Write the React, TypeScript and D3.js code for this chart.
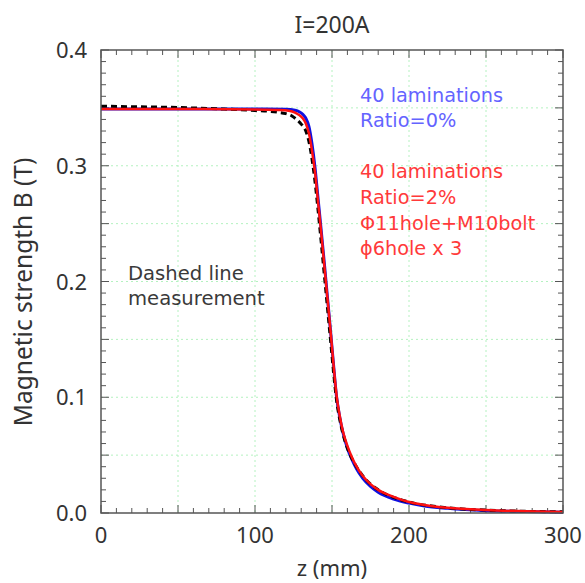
import React from "react";
import * as d3 from "d3";

const zRed = [0, 50, 100, 115, 122, 126, 129, 131, 133, 135, 137, 139, 141, 143, 145, 147, 149, 151, 153, 155, 157, 160, 163, 166, 170, 175, 180, 190, 200, 210, 225, 250, 275, 300];
const bRed = [0.349, 0.349, 0.3487, 0.3482, 0.3475, 0.346, 0.3435, 0.341, 0.3365, 0.328, 0.313, 0.294, 0.268, 0.242, 0.214, 0.186, 0.158, 0.128, 0.101, 0.084, 0.071, 0.058, 0.048, 0.04, 0.032, 0.025, 0.02, 0.014, 0.0095, 0.007, 0.0045, 0.0025, 0.0015, 0.0008];

const zBlue = [0, 50, 100, 120, 126, 129, 131, 133, 135, 137, 139, 141, 143, 145, 147, 149, 151, 153, 155, 157, 160, 163, 166, 170, 175, 180, 190, 200, 210, 225, 250, 275, 300];
const bBlue = [0.349, 0.349, 0.349, 0.3488, 0.348, 0.3465, 0.3445, 0.341, 0.334, 0.319, 0.298, 0.271, 0.244, 0.216, 0.187, 0.158, 0.128, 0.1, 0.083, 0.07, 0.056, 0.046, 0.038, 0.03, 0.023, 0.018, 0.012, 0.0085, 0.006, 0.004, 0.002, 0.0012, 0.0006];

const zMeas = [0, 20, 50, 80, 100, 110, 115, 120, 124, 127, 130, 133, 135, 137, 139, 141, 143, 145, 147, 149, 151, 153, 155, 157, 160, 165, 170, 180, 190, 200, 225, 250, 300];
const bMeas = [0.3515, 0.351, 0.3503, 0.349, 0.3477, 0.347, 0.3462, 0.345, 0.343, 0.34, 0.336, 0.33, 0.321, 0.306, 0.286, 0.261, 0.234, 0.206, 0.178, 0.15, 0.122, 0.097, 0.081, 0.069, 0.056, 0.042, 0.032, 0.02, 0.0135, 0.0095, 0.0045, 0.0025, 0.001];

const xTicks = [0, 100, 200, 300];
const yTicks = [0.0, 0.1, 0.2, 0.3, 0.4];

const blueNotes = ["40 laminations", "Ratio=0%"];
const redNotes = ["40 laminations", "Ratio=2%", "Φ11hole+M10bolt", "ϕ6hole x 3"];
const blackNotes = ["Dashed line", "measurement"];

const W = 585;
const H = 583;
const L = 101, R = 563, T = 50, B = 513;
const FONT = "'Noto Sans', 'DejaVu Sans', sans-serif";
const NOTE_FONT = "'DejaVu Sans', 'Noto Sans', sans-serif";

export default function App() {
  const x = d3.scaleLinear().domain([0, 300]).range([L, R]);
  const y = d3.scaleLinear().domain([0, 0.4]).range([B, T]);
  const line = (zs: number[], bs: number[]) =>
    d3.line<number>().x((_, i) => x(zs[i])).y((d) => y(d)).curve(d3.curveMonotoneX)(bs) || "";

  const xGrid = d3.range(50, 300, 50);
  const yGrid = d3.range(1, 8).map((i) => i * 0.05);
  const xMinor = d3.range(0, 301, 10);
  const yMinor = d3.range(0, 41).map((i) => i * 0.01);

  return (
    <svg width={W} height={H} style={{ position: "absolute", left: 0, top: 0 }} fontFamily={FONT}>
      <rect width={W} height={H} fill="#fff" />
      {xGrid.map((v) => (
        <line key={"gx" + v} x1={x(v)} x2={x(v)} y1={T} y2={B} stroke="#b4f2c0" strokeWidth={1} strokeDasharray="2,3" />
      ))}
      {yGrid.map((v) => (
        <line key={"gy" + v} x1={L} x2={R} y1={y(v)} y2={y(v)} stroke="#b4f2c0" strokeWidth={1} strokeDasharray="2,3" />
      ))}
      {xMinor.map((v, i) => {
        const len = i % 5 === 0 ? 8 : 5;
        return (
          <g key={"tx" + v}>
            <line x1={x(v)} x2={x(v)} y1={B} y2={B - len} stroke="#555" strokeWidth={1} />
            <line x1={x(v)} x2={x(v)} y1={T} y2={T + len} stroke="#555" strokeWidth={1} />
          </g>
        );
      })}
      {yMinor.map((v, i) => {
        const len = i % 5 === 0 ? 8 : 5;
        return (
          <g key={"ty" + i}>
            <line x1={L} x2={L + len} y1={y(v)} y2={y(v)} stroke="#555" strokeWidth={1} />
            <line x1={R} x2={R - len} y1={y(v)} y2={y(v)} stroke="#555" strokeWidth={1} />
          </g>
        );
      })}
      <path d={line(zBlue, bBlue)} fill="none" stroke="#1010e0" strokeWidth={3} />
      <path d={line(zMeas, bMeas)} fill="none" stroke="#000" strokeWidth={3} strokeDasharray="6,4" />
      <path d={line(zRed, bRed)} fill="none" stroke="#ff1010" strokeWidth={2.5} />
      <rect x={L} y={T} width={R - L} height={B - T} fill="none" stroke="#555" strokeWidth={1.5} />
      {xTicks.map((v) => (
        <text key={"xl" + v} x={x(v)} y={543} textAnchor="middle" fontSize={22} fill="#333">{v}</text>
      ))}
      {yTicks.map((v) => (
        <text key={"yl" + v} x={87} y={y(v) + 8} textAnchor="end" fontSize={22} fill="#333">{v.toFixed(1)}</text>
      ))}
      <text x={332} y={33} textAnchor="middle" fontSize={23} fill="#333">I=200A</text>
      <text x={332} y={576} textAnchor="middle" fontSize={22} fill="#333">z (mm)</text>
      <text transform="translate(32,292) rotate(-90)" textAnchor="middle" fontSize={24.5} fill="#333">Magnetic strength B (T)</text>
      <g fontFamily={NOTE_FONT}>
        {blueNotes.map((s, i) => (
          <text key={"bn" + i} x={360} y={102 + i * 24.5} fontSize={19.3} fill="#6464ff">{s}</text>
        ))}
        {redNotes.map((s, i) => (
          <text key={"rn" + i} x={360} y={178 + i * 25.8} fontSize={19.3} fill="#ff3a3a">{s}</text>
        ))}
        {blackNotes.map((s, i) => (
          <text key={"kn" + i} x={128} y={280 + i * 25} fontSize={19.6} fill="#3a3a3a">{s}</text>
        ))}
      </g>
    </svg>
  );
}
